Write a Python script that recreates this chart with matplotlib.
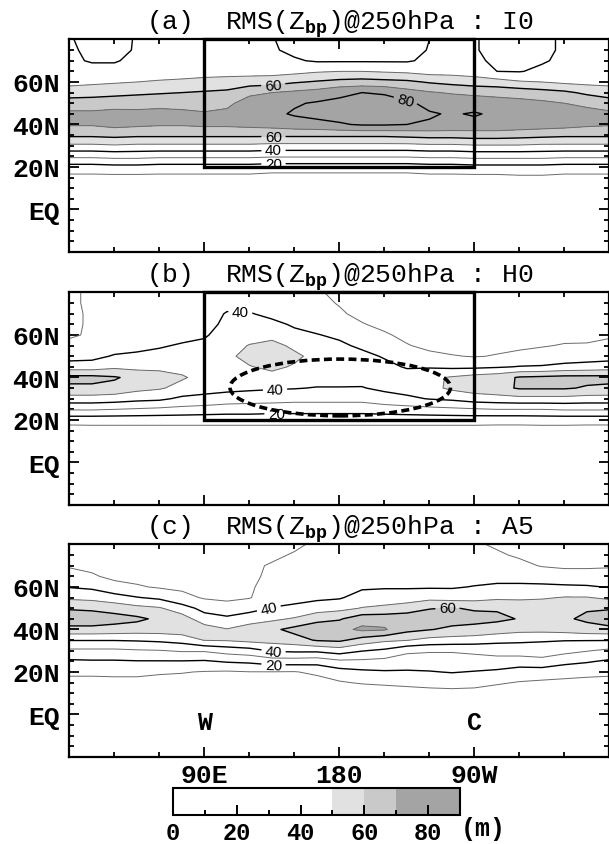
import numpy as np
import matplotlib
matplotlib.use("Agg")
import matplotlib.pyplot as plt
from matplotlib.colors import ListedColormap, BoundaryNorm
from matplotlib.cm import ScalarMappable
from matplotlib.patches import Rectangle, Ellipse
from matplotlib.ticker import MultipleLocator

plt.rcParams['font.family'] = ['Liberation Mono', 'DejaVu Sans Mono']
plt.rcParams['mathtext.fontset'] = 'custom'
plt.rcParams['mathtext.rm'] = 'Liberation Mono'
plt.rcParams['mathtext.bf'] = 'Liberation Mono:bold'

# grid of the RMS field (m): rows are latitudes, columns longitudes (deg E)
LONS = [0, 15, 30, 45, 60, 75, 90, 105, 120, 135, 150, 165,
        180, 195, 210, 225, 240, 255, 270, 285, 300, 315, 330, 345]
LATS = [10, 15, 20, 25, 30, 35, 40, 45, 50, 55, 60, 65, 70, 75, 80]

# run I0
rms_i0 = np.array([
    [3, 3, 3, 3, 3, 3, 3, 3, 3, 3, 3, 3, 3, 3, 3, 3, 3, 3, 3, 3, 3, 3, 3, 3],
    [7, 7, 7, 7, 7, 7, 7, 7, 7, 6, 6, 6, 6, 6, 6, 6, 7, 7, 7, 7, 8, 8, 7, 7],
    [16, 16, 17, 17, 16, 16, 16, 16, 16, 15, 15, 15, 15, 15, 15, 15, 16, 16, 17, 17, 17, 17, 16, 16],
    [32, 32, 33, 33, 32, 32, 32, 32, 32, 31, 31, 31, 31, 31, 31, 31, 32, 32, 33, 33, 33, 33, 32, 32],
    [48, 48, 49, 48, 48, 48, 48, 48, 48, 47, 47, 47, 47, 47, 47, 47, 48, 48, 49, 49, 49, 48, 48, 48],
    [62, 62, 63, 62, 62, 62, 62, 62, 62, 62, 62, 62, 62, 62, 62, 63, 64, 64, 65, 65, 64, 63, 62, 62],
    [71, 71, 73, 72, 71, 71, 72, 72, 73, 74, 76, 77, 79, 81, 81, 80, 79, 78, 77, 77, 76, 75, 74, 72],
    [72, 72, 73, 72, 72, 72, 71, 72, 76, 78, 81, 83, 84, 85, 85, 84, 81, 79, 81, 78, 77, 76, 75, 73],
    [65, 65, 66, 67, 68, 67, 66, 68, 74, 76, 79, 81, 82, 84, 84, 82, 77, 77, 75, 74, 73, 72, 70, 68],
    [55, 56, 57, 58, 59, 60, 61, 62, 68, 70, 72, 74, 78, 80, 79, 74, 71, 69, 68, 67, 66, 64, 62, 58],
    [47, 48, 49, 50, 51, 52, 53, 54, 55, 56, 59, 61, 63, 64, 63, 62, 59, 57, 55, 54, 51, 50, 48, 47],
    [44, 44, 44, 45, 45, 45, 46, 46, 46, 46, 47, 49, 50, 50, 49, 48, 46, 46, 45, 40, 39.5, 42, 43, 44],
    [42, 39, 39, 43, 44, 44, 44, 44, 44, 43, 41, 39, 39, 39, 39, 39, 42, 43, 42, 38, 37, 39, 42, 43],
    [42, 37, 37, 41, 44, 43, 43, 43, 42, 41, 38, 37, 37, 37, 37, 37, 40.5, 42, 41, 36, 35, 37, 42, 42],
    [41, 36, 36, 41, 44, 43, 43, 43, 42, 40.5, 37, 35, 35, 35, 35, 36, 40, 42, 41, 36, 35, 37, 42, 42],
])

# run H0
rms_h0 = np.array([
    [3, 3, 3, 3, 3, 3, 3, 3, 3, 3, 3, 3, 3, 3, 3, 3, 3, 3, 3, 3, 3, 3, 3, 3],
    [5.5, 6, 6, 6, 6, 6, 6, 6, 6, 6, 6, 6, 6, 6, 6, 6, 6, 6, 6, 6, 6, 6, 6, 5.5],
    [14, 14, 14, 14, 14, 14, 14, 14, 14, 14, 14, 14, 14, 14, 14, 14, 14, 14, 14, 13.5, 13.5, 14, 14, 14],
    [31, 31, 30, 29, 28, 27, 26, 25, 25, 24, 24, 24, 24, 24, 25, 26, 27, 28, 29, 30, 30, 30, 31, 31],
    [46, 46, 45, 43, 42, 38, 37, 35, 34, 34, 33, 33, 33, 33, 36, 38, 40.5, 42, 45, 46, 47, 47, 47, 46],
    [58, 58, 57, 53, 51, 47, 44, 43, 42, 41, 40.5, 39.5, 39.5, 39.5, 42, 44, 47, 52, 55, 57, 61, 61, 61, 59],
    [63, 63, 61, 57, 55, 51, 47, 47, 46, 47, 45, 44, 44, 43, 44, 45, 48, 51, 54, 56, 61, 62, 63, 63],
    [45, 45, 48, 47, 47, 47, 46, 48, 49.5, 52, 49, 46, 45, 44, 43, 39, 39, 38, 38, 39, 40.5, 41, 43, 44],
    [36, 37, 41, 42, 43, 44, 45, 48, 53, 55, 52, 47, 44, 43, 39, 34, 32, 30.5, 29.5, 30.5, 32, 33, 34, 35],
    [32, 33, 35, 37, 39, 41, 42, 46, 50.5, 53, 48, 45, 42, 38, 35, 30.5, 28, 27, 27, 28, 28.5, 29.5, 30.5, 30.5],
    [29, 31, 33, 34, 35, 37, 39, 44, 46, 47, 42, 40.5, 38, 34, 31, 28, 27, 26, 26, 27, 27, 28, 28, 28.5],
    [28.5, 31, 32, 33, 34, 35, 37, 42, 43, 42, 39, 36, 34, 30.5, 28, 27, 27, 26, 26, 26, 26, 27, 27.5, 28],
    [28.5, 31, 32, 33, 34, 35, 37, 40.5, 40.5, 38, 36, 33, 31, 28, 27, 27, 27, 27, 26, 26, 26, 27, 27, 28],
    [29, 31, 32, 33, 34, 35, 37, 38, 38, 36, 34, 32, 29.5, 28, 28, 28, 28, 27, 27, 27, 27, 27, 27, 28],
    [29, 31, 32, 33, 34, 35, 37, 37, 37, 35, 33, 31, 28, 28, 29, 29, 28, 28, 27, 27, 27, 27, 27, 28],
])

# run A5
rms_a5 = np.array([
    [4, 4, 4, 4, 4, 4, 3, 3, 3, 3, 2.5, 2.5, 3, 3, 4, 5, 6, 7, 7, 6, 5, 5, 4.5, 4],
    [7, 7, 7, 7, 7, 6.5, 6, 5.5, 5.5, 6, 5.5, 6, 9, 11, 12, 13, 14, 14, 13, 11, 9.5, 8.5, 8, 7.5],
    [12, 12, 12.5, 12.5, 11, 10.5, 9.5, 9, 9.8, 9.8, 9.5, 12, 16, 18, 19, 19, 19.5, 20.5, 19.5, 18, 15, 15, 13.5, 12.5],
    [18.5, 19, 19, 19.5, 19.5, 19.5, 19, 21, 22, 25, 25, 24, 28, 28, 27, 25, 25, 25, 26, 27, 26, 27, 23, 21],
    [28, 28, 28, 29, 29.5, 31, 31, 34, 36, 41, 42, 42, 45, 40.5, 38, 32, 31, 31, 32, 33, 34, 35, 33, 30.5],
    [40.5, 40.5, 40.5, 41, 42, 44, 50.5, 51, 53, 54, 56, 61, 62, 56, 52, 50.5, 47, 46, 45, 43, 42, 41, 40.5, 40.5],
    [57, 57, 56, 55, 55, 56, 55, 50.5, 54, 58, 63, 66, 67, 72, 71, 63, 60.5, 58, 57, 55, 53, 53, 54, 56],
    [66, 66, 64, 62, 58, 55, 44, 42, 46, 48, 51, 57, 59, 66, 66, 66, 65, 64, 63, 62, 59.5, 57, 58.5, 62],
    [59, 58, 56, 53, 51, 44, 37, 34, 36, 40.5, 42, 45, 47, 50.5, 52, 55, 59.5, 60.5, 59, 59, 57, 56, 57, 59],
    [48, 47, 44, 40.5, 38, 33, 29, 28, 29.5, 35, 37, 38, 39, 44, 45, 45, 47, 46, 46, 48, 48, 49, 50.5, 50.5],
    [39.5, 38, 33, 31, 29, 28, 27, 28, 29, 33, 34, 35, 36, 38.5, 39, 39, 39, 39, 40.5, 41.5, 42, 42, 41.5, 41],
    [34, 31, 28, 27, 26, 26, 27, 28, 29, 31, 33, 34, 35, 37, 37, 37, 36, 36, 36, 37, 36, 35, 34, 34],
    [29, 28, 27, 26, 26, 26, 27, 28, 29, 30.5, 31, 33, 34, 36, 36, 36, 35, 34, 33, 34, 32, 29.5, 28.5, 28.5],
    [28, 27, 27, 26, 26, 27, 28, 29, 29.5, 29, 30.5, 32, 33, 35, 35, 35, 35, 34, 32, 31, 29, 28, 28, 28],
    [28, 27, 27, 27, 27, 28, 29, 30, 30, 29, 29, 31, 33, 34, 34, 34, 34, 33, 31, 29, 28, 28, 28, 28],
])

panel_tags = ['(a)', '(b)', '(c)']
run_names = ['I0', 'H0', 'A5']
lat_ticks = [0, 20, 40, 60]
lat_labels = ['EQ', '20N', '40N', '60N']
lon_ticks = [90, 180, 270]
lon_labels = ['90E', '180', '90W']
cbar_ticks = [0, 20, 40, 60, 80]

shade_levels = [50, 60, 70, 90]
shade_colors = ['#e1e1e1', '#c9c9c9', '#a4a4a4']
thin_levels = [10, 30, 50, 70]
bold_levels = [20, 40, 60, 80]

# where the contour labels sit (lon, lat)
label_spots = [
    [(136, 57.6), (224, 51.4), (136, 34.1), (136, 27.8), (136, 22.4)],
    [(114, 69.9), (137, 35.0), (138, 22.5)],
    [(133, 49.6), (252, 50.1), (136, 29.3), (136, 23.3)],
]


def draw_panel(ax, field, tag, run, spots):
    lon = np.append(LONS, 360)
    z = np.column_stack([field, field[:, 0]])

    ax.contourf(lon, LATS, z, levels=shade_levels, colors=shade_colors)
    ax.contour(lon, LATS, z, levels=thin_levels, colors='#6a6a6a', linewidths=0.7)
    cs = ax.contour(lon, LATS, z, levels=bold_levels, colors='k', linewidths=1.0)

    ax.set_xlim(0, 360)
    ax.set_ylim(-20, 80)

    texts = ax.clabel(cs, fmt='%d', fontsize=11, inline=True,
                      inline_spacing=3, manual=spots)
    for t in texts:
        t.set_fontfamily('Liberation Sans')

    ax.set_xticks(lon_ticks)
    ax.xaxis.set_minor_locator(MultipleLocator(30))
    ax.set_yticks(lat_ticks)
    ax.set_yticklabels(lat_labels, fontsize=19, fontweight='bold')
    ax.yaxis.set_minor_locator(MultipleLocator(5))
    ax.tick_params(which='both', direction='in', top=True, right=True, width=1.3)
    ax.tick_params(which='major', length=7, pad=7)
    ax.tick_params(which='minor', length=3.3)
    for s in ax.spines.values():
        s.set_linewidth(1.6)

    ax.set_title(tag + '  RMS(Z$_\\mathbf{bp}$)@250hPa : ' + run,
                 fontsize=19, pad=5)


fig = plt.figure(figsize=(6.09, 8.45), dpi=100)

bottoms = [0.7006, 0.4012, 0.1030]
fields = [rms_i0, rms_h0, rms_a5]
axes = []
for i in range(3):
    ax = fig.add_axes([0.1141, bottoms[i], 0.8867, 0.2515])
    draw_panel(ax, fields[i], panel_tags[i], run_names[i], label_spots[i])
    axes.append(ax)

# target box 90E-90W, 20N-80N in the first two runs
for ax in axes[:2]:
    ax.add_patch(Rectangle((90, 20), 180, 60, fill=False, ec='k', lw=2.4,
                           clip_on=False, zorder=5))

axes[1].add_patch(Ellipse((180.5, 35.3), 147, 26.7, fill=False, ec='k', lw=2.6,
                          ls=(0, (2.2, 1.2)), zorder=6))

for ax in axes[:2]:
    ax.set_xticklabels([])
axes[2].set_xticklabels(lon_labels, fontsize=19, fontweight='bold')
axes[2].tick_params(axis='x', which='major', pad=4)

axes[2].text(90, -3.5, 'W', ha='center', va='center', fontsize=18, fontweight='bold')
axes[2].text(270, -3.5, 'C', ha='center', va='center', fontsize=18, fontweight='bold')

# colour key
cax = fig.add_axes([173 / 609, 1 - 816 / 845, 287 / 609, 27 / 845])
cmap = ListedColormap(['white'] + shade_colors)
norm = BoundaryNorm([0] + shade_levels, cmap.N)
cb = fig.colorbar(ScalarMappable(norm=norm, cmap=cmap), cax=cax,
                  orientation='horizontal', spacing='proportional', ticks=cbar_ticks)
cb.set_ticks([10, 30, 50, 70, 90], minor=True)
cb.outline.set_linewidth(1.5)
cax.tick_params(which='major', direction='in', length=7, width=1.4, pad=4)
cax.tick_params(which='minor', direction='in', length=3.5, width=1.4)
cax.set_xticklabels([str(v) for v in cbar_ticks], fontsize=17, fontweight='bold')
fig.text(483 / 609, 1 - 829 / 845, '(m)', ha='center', va='center',
         fontsize=18, fontweight='bold')

fig.savefig('out.png', dpi=100)
